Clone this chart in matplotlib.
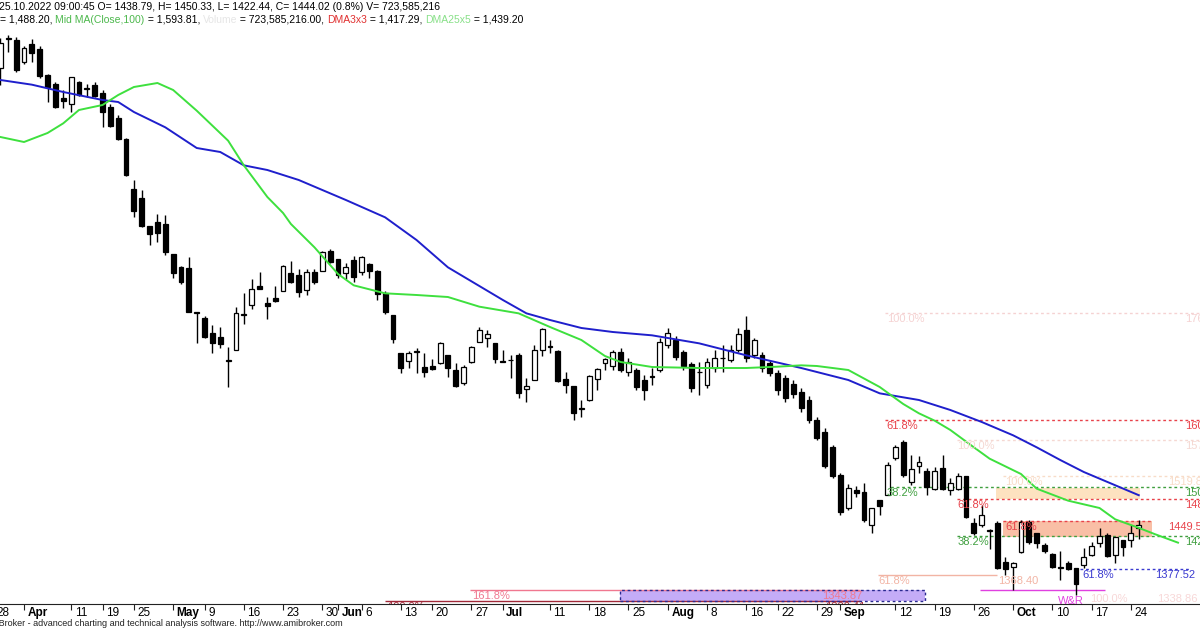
"""
WIG20 daily candles 29.03 - 25.10.2022 (AmiBroker style) with MA lines and fib levels
"""
import matplotlib
matplotlib.use("Agg")
import matplotlib.pyplot as plt
from matplotlib.patches import Rectangle
import numpy as np
import pandas as pd

plt.rcParams['font.family'] = ['Liberation Sans', 'DejaVu Sans']

# GPW sessions, holidays removed
HOLIDAYS = ['2022-04-15', '2022-04-18', '2022-05-03', '2022-06-16', '2022-08-15']
dates = pd.bdate_range('2022-03-29', '2022-10-25')
dates = dates[~dates.isin(pd.to_datetime(HOLIDAYS))]

OPENS = [2129, 2172.5, 2171, 2138, 2165, 2157.5, 2118.5, 2105, 2084, 2075,
         2108, 2098, 2103.5, 2091.5, 2070.5, 2054, 2022.5, 1947.5, 1934, 1892,
         1898, 1895, 1850, 1830.5, 1829, 1761.5, 1754, 1731.5, 1725.5, 1689.5,
         1706, 1758.5, 1773.5, 1802, 1776.5, 1784, 1794.5, 1821.5, 1818.5, 1796,
         1823, 1824.5, 1854.5, 1842.5, 1821.5, 1841, 1823, 1835, 1824.5, 1791.5,
         1758.5, 1701.5, 1689.5, 1703.5, 1680.5, 1682, 1686.5, 1698.5, 1676, 1656.5,
         1688, 1718, 1724, 1716.5, 1689, 1690.5, 1698.5, 1647.5, 1661, 1706,
         1711, 1704.5, 1662.5, 1652, 1617.5, 1631, 1662.5, 1686.5, 1682, 1703,
         1673, 1676, 1661, 1665.5, 1676, 1713.5, 1721, 1703, 1685, 1672.5,
         1653.5, 1679, 1693.5, 1691, 1706, 1736, 1698.5, 1698.5, 1686.5, 1671.5,
         1664, 1655, 1643, 1631, 1601, 1583, 1560.5, 1518.5, 1469, 1496,
         1493, 1443.5, 1481, 1488.5, 1544, 1568, 1508, 1532, 1524.5, 1497.5,
         1529, 1496, 1497.5, 1517, 1446.5, 1443.5, 1435, 1446.5, 1388, 1380.5,
         1403, 1448, 1431.5, 1413.5, 1400, 1379.5, 1386.5, 1379, 1383.5, 1398.5,
         1416.5, 1428.5, 1398.5, 1421, 1421, 1438.79]
HIGHS = [2174, 2178.5, 2175.5, 2162, 2172.5, 2162, 2120, 2108, 2096, 2115.5,
         2109.5, 2105, 2108, 2096, 2075, 2058.5, 2024, 1961, 1946, 1892,
         1910, 1908.5, 1850, 1832, 1845.5, 1763, 1757, 1743.5, 1740.5, 1710.5,
         1770.5, 1791.5, 1812.5, 1823, 1785.5, 1802, 1833.5, 1839.5, 1827.5, 1827.5,
         1827.5, 1854.5, 1857.5, 1842.5, 1836.5, 1847, 1847, 1836.5, 1826, 1794.5,
         1758.5, 1701.5, 1704.5, 1709, 1701.5, 1692.5, 1718, 1698.5, 1686.5, 1683.5,
         1712, 1740.5, 1736, 1716.5, 1706, 1698.5, 1701.5, 1664, 1713.5, 1739,
         1721, 1706, 1673, 1652, 1631, 1668.5, 1679, 1694, 1706, 1709,
         1694, 1679, 1668.5, 1679, 1724, 1739, 1727, 1706, 1688, 1688,
         1694, 1706, 1713.5, 1713.5, 1739, 1757, 1724, 1703, 1691, 1676,
         1668.5, 1661, 1649, 1637, 1605.5, 1589, 1563.5, 1521.5, 1505, 1502,
         1506.5, 1469, 1481, 1538, 1563.5, 1571, 1548.5, 1547, 1529, 1530.5,
         1548.5, 1514, 1521.5, 1517, 1454, 1473.5, 1437.5, 1449.5, 1395.5, 1388,
         1451, 1451, 1431.5, 1416.5, 1401.5, 1404.5, 1389.5, 1379, 1409, 1418,
         1439, 1431.5, 1425.5, 1421, 1443.5, 1450.33]
LOWS = [2103.5, 2153, 2123, 2135, 2138, 2114, 2078, 2069, 2069, 2063,
        2087, 2085.5, 2085.5, 2040.5, 2040.5, 2021, 1967, 1905.5, 1890.5, 1863.5,
        1868, 1848.5, 1814, 1805, 1763, 1716.5, 1724, 1701.5, 1709, 1650.5,
        1706, 1745, 1767.5, 1797.5, 1752.5, 1778, 1794.5, 1806.5, 1785.5, 1788.5,
        1805, 1824.5, 1836.5, 1814, 1812.5, 1808, 1818.5, 1814, 1781, 1760,
        1716.5, 1671.5, 1679, 1671.5, 1665.5, 1676, 1685, 1665.5, 1650.5, 1653.5,
        1686.5, 1718, 1710.5, 1686.5, 1687.5, 1664, 1634, 1628, 1661, 1697,
        1701.5, 1658, 1641.5, 1601, 1605.5, 1629.5, 1646, 1676, 1676, 1673,
        1667, 1646, 1631, 1653.5, 1673, 1709, 1691, 1676, 1643, 1638.5,
        1649, 1673, 1673, 1688, 1703, 1688, 1694, 1673, 1667, 1638.5,
        1628, 1634, 1613, 1596.5, 1571, 1529, 1514, 1458.5, 1466, 1485.5,
        1448, 1431.5, 1458.5, 1488.5, 1541, 1515.5, 1503.5, 1521.5, 1488.5, 1496,
        1496, 1488.5, 1496, 1454, 1428.5, 1440.5, 1407.5, 1377.5, 1368.5, 1346,
        1401.5, 1415, 1409, 1401.5, 1379, 1361, 1376, 1339, 1379, 1397,
        1410.5, 1395.5, 1386.5, 1397, 1410.5, 1422.44]
CLOSES = [2166.5, 2174, 2126, 2159, 2151.5, 2117, 2100.5, 2070.5, 2079.5, 2115.5,
          2088.5, 2099, 2087, 2063, 2042, 2022.5, 1968.5, 1914.5, 1892, 1880,
          1881.5, 1853, 1821.5, 1808, 1763, 1762, 1725.5, 1716.5, 1715, 1690.5,
          1761.5, 1759.5, 1797.5, 1797.5, 1772, 1779.5, 1832, 1808, 1793, 1823,
          1808, 1853, 1838, 1818.5, 1830.5, 1815.5, 1845.5, 1824.5, 1790, 1763,
          1722.5, 1679, 1701.5, 1704.5, 1673, 1677.5, 1716.5, 1679, 1652, 1680.5,
          1710.5, 1736, 1730, 1692.5, 1688, 1691.5, 1641.5, 1652, 1706, 1737.5,
          1712, 1659.5, 1653.5, 1611.5, 1618.5, 1667, 1677.5, 1692.5, 1703, 1676,
          1688, 1650.5, 1646, 1666.5, 1718, 1731.5, 1695.5, 1682, 1649, 1673.5,
          1688, 1694, 1694.5, 1706, 1730, 1694, 1721, 1679, 1671.5, 1646,
          1634, 1640, 1619, 1601, 1574, 1532, 1517, 1463, 1499, 1491.5,
          1451, 1469, 1472, 1533.5, 1560.5, 1518.5, 1527.5, 1538, 1500.5, 1524.5,
          1497.5, 1506.5, 1517, 1455.5, 1431.5, 1458.5, 1436, 1379, 1377.5, 1386.5,
          1448, 1418, 1416.5, 1404.5, 1380.5, 1381, 1377.5, 1355, 1395.5, 1412,
          1427, 1397, 1425.5, 1410.5, 1431.5, 1444.02]

# blue MA, read at bar positions
BLUE_IDX = [0, 4, 8, 13, 15, 17, 21, 25, 28, 31, 34, 38, 44, 49, 53, 57, 64, 67,
            70, 74, 78, 83, 89, 95, 102, 108, 112, 117, 121, 125, 129, 132, 135, 138, 145]
BLUE_VAL = [2111, 2104, 2093, 2081, 2078, 2063, 2040, 2009, 2003, 1983, 1976, 1961,
            1931, 1905, 1871, 1830, 1781, 1761, 1751, 1739, 1733, 1728, 1716, 1698,
            1679, 1661, 1641, 1631, 1616, 1598, 1578, 1560, 1541, 1523, 1488.2]
# DMA25x5 (displaced 5 bars forward)
GREEN_IDX = [0, 3, 6, 8, 10, 13, 15, 17, 20, 22, 25, 29, 31, 34, 36, 37, 40, 43, 45,
             49, 53, 57, 61, 66, 70, 74, 77, 79, 83, 89, 95, 99, 102, 104, 108, 112,
             115, 117, 119, 121, 124, 126, 130, 132, 136, 140, 142, 145, 147, 150]
GREEN_VAL = [2025.5, 2018, 2031.5, 2046, 2066, 2073.5, 2088.5, 2100.5, 2106.5, 2096,
             2065, 2020, 1983, 1935.5, 1911.5, 1895, 1860, 1820, 1803, 1791, 1788.5,
             1785.5, 1771, 1761, 1740.5, 1721, 1697, 1688, 1680.5, 1679, 1679, 1681,
             1683, 1682, 1676, 1650.5, 1625, 1611, 1600, 1586, 1560, 1543, 1520, 1498,
             1480, 1469, 1452, 1439.2, 1430, 1417]

# fibonacci / study lines
FIB_PRICE = [1761.5, 1600.6, 1571.0, 1517.7, 1500.5, 1482.5, 1449.5, 1427.0,
             1377.52, 1368.4, 1346.0, 1345.3, 1330.0]
FIB_X0 = [112.7, 112.7, 121.9, 127.7, 112.7, 121.9, 127.7, 121.9, 137.5, 111.8, 124.8, 59.8, 49.0]
FIB_X1 = [153, 153, 153, 153, 153, 153, 146.7, 153, 151.5, 127.0, 140.7, 109.5, 109.5]
FIB_COLOR = ['#f5d2d2', '#e8424a', '#f5d8d2', '#f8dcc8', '#3f9f3f', '#e8424a', '#e8424a',
             '#3f9f3f', '#3a3ad0', '#f2b4a4', '#e040e0', '#f07890', '#a02838']
FIB_DASHED = [True, True, True, True, True, True, True, True, True, False, False, False, False]
FIB_PCT = ['100.0%', '61.8%', '100.0%', '100.0%', '38.2%', '61.8%', '61.8%', '38.2%',
           '61.8%', '61.8%', 'W&R', '161.8%', '100.0%']
FIB_PCT_X = [112.9, 112.9, 121.9, 128.0, 112.9, 121.9, 128.0, 121.9, 137.8, 111.8, 134.7, 60.1, 49.2]
FIB_VAL = ['1761.48', '1600.61', '1570.96', '1519.80', '1500.52', '1482.51', '1449.58',
           '1427.02', '1377.52', '1368.40', '', '1343.87', '1320.41']
FIB_VAL_X = [150.9, 150.9, 150.9, 148.7, 150.9, 150.9, 148.7, 150.9, 147.1, 127.1, 0, 104.7, 105.0]

# zones: x0, x1, low, high
ZONE_X0 = [126.8, 127.7, 78.9]
ZONE_X1 = [145.2, 146.7, 117.8]
ZONE_LO = [1482.5, 1425.5, 1329.5]
ZONE_HI = [1499.0, 1449.5, 1346.0]
ZONE_COLOR = ['#fde2c0', '#f9bfa6', '#c4acf7']

TICK_DATES = ['2022-03-28', '2022-04-01', '2022-04-11', '2022-04-19', '2022-04-25',
              '2022-05-02', '2022-05-09', '2022-05-16', '2022-05-23', '2022-05-30',
              '2022-06-01', '2022-06-06', '2022-06-13', '2022-06-20', '2022-06-27',
              '2022-07-01', '2022-07-11', '2022-07-18', '2022-07-25', '2022-08-01',
              '2022-08-08', '2022-08-16', '2022-08-22', '2022-08-29', '2022-09-01',
              '2022-09-12', '2022-09-19', '2022-09-26', '2022-10-03', '2022-10-10',
              '2022-10-17', '2022-10-24']
TICK_LABELS = ['28', 'Apr', '11', '19', '25', 'May', '9', '16', '23', '30', 'Jun', '6',
               '13', '20', '27', 'Jul', '11', '18', '25', 'Aug', '8', '16', '22', '29',
               'Sep', '12', '19', '26', 'Oct', '10', '17', '24']
MONTHS = ['Apr', 'May', 'Jun', 'Jul', 'Aug', 'Sep', 'Oct']


fig = plt.figure(figsize=(12, 6.3), dpi=100)
ax = fig.add_axes([0, 26 / 630, 1, 604 / 630])
ax.set_xlim(-0.057, 152.8)
ax.set_ylim(1325, 2231)
for s in ['top', 'left', 'right']:
    ax.spines[s].set_visible(False)
ax.spines['bottom'].set_color('#222222')
ax.set_yticks([])

# zones
for x0, x1, lo, hi, col in zip(ZONE_X0, ZONE_X1, ZONE_LO, ZONE_HI, ZONE_COLOR):
    ax.add_patch(Rectangle((x0, lo), x1 - x0, hi - lo, facecolor=col, edgecolor='none', zorder=1))
ax.add_patch(Rectangle((ZONE_X0[2], ZONE_LO[2]), ZONE_X1[2] - ZONE_X0[2], ZONE_HI[2] - ZONE_LO[2],
                       facecolor='none', edgecolor='#2a2a90', lw=1, linestyle=(0, (2, 2)), zorder=2))

# fib lines and labels
for p, x0, x1, col, dash, pct, px, val, vx in zip(FIB_PRICE, FIB_X0, FIB_X1, FIB_COLOR, FIB_DASHED,
                                                   FIB_PCT, FIB_PCT_X, FIB_VAL, FIB_VAL_X):
    ax.hlines(p, x0, x1, colors=col, lw=1, linestyles=(0, (2, 2)) if dash else 'solid', zorder=1.5)
    off = 9 if pct == 'W&R' else 1.5
    ax.text(px, p - off, pct, color=col, fontsize=8, ha='left', va='top', zorder=6, clip_on=True)
    if val:
        ax.text(vx, p - 1.5, val, color=col, fontsize=8, ha='left', va='top', zorder=6, clip_on=True)
ax.text(138.8, 1346 - 6, '100.0%', color='#f8d8d8', fontsize=8, ha='left', va='top', zorder=6)
ax.text(147.3, 1346 - 6, '1338.86', color='#f8d8d8', fontsize=8, ha='left', va='top', zorder=6)

# candles
x = np.arange(len(dates))
o = np.array(OPENS)
c = np.array(CLOSES)
up = c >= o
lo = np.minimum(o, c)
hgt = np.maximum(np.abs(c - o), 0.8)
ax.vlines(x, LOWS, HIGHS, color='black', lw=1, zorder=3)
ax.bar(x[up], hgt[up], bottom=lo[up], width=0.62, color='white', edgecolor='black', lw=0.9, zorder=4)
ax.bar(x[~up], hgt[~up], bottom=lo[~up], width=0.62, color='black', edgecolor='black', lw=0.9, zorder=4)

# moving averages
ax.plot(BLUE_IDX, BLUE_VAL, color='#1f1fcc', lw=1.4, zorder=5)
ax.plot(GREEN_IDX, GREEN_VAL, color='#3ee03e', lw=1.4, zorder=5)

# date axis
tick_pos = []
for d in pd.to_datetime(TICK_DATES):
    pos = dates.searchsorted(d)
    if d not in dates:
        pos -= 1
    tick_pos.append(pos)
ax.set_xticks([p for p in tick_pos if p >= 0])
ax.set_xticklabels([])
ax.tick_params(axis='x', length=4, width=0.8, color='#222222', direction='out')
for pos, lab in zip(tick_pos, TICK_LABELS):
    ax.annotate(lab, xy=(pos, 0), xycoords=('data', 'axes fraction'), xytext=(2.5, -2.5),
                textcoords='offset points', ha='left', va='top', fontsize=8.5,
                fontweight='bold' if lab in MONTHS else 'normal', annotation_clip=False)

# header
fig.text(-0.001, 1 - 7 / 630, '25.10.2022 09:00:45 O= 1438.79, H= 1450.33, L= 1422.44, '
         'C= 1444.02 (0.8%) V= 723,585,216', fontsize=7.5, va='center', ha='left')
parts = [('= 1,488.20, ', 'black'), ('Mid MA(Close,100)', '#4cb84c'), (' = 1,593.81, ', 'black'),
         ('Volume', '#e6e6e6'), (' = 723,585,216.00, ', 'black'), ('DMA3x3', '#e03030'),
         (' = 1,417.29, ', 'black'), ('DMA25x5', '#88e088'), (' = 1,439.20', 'black')]
prev = fig.text(0, 1 - 20 / 630, parts[0][0], color=parts[0][1], fontsize=7.5, va='center', ha='left')
for txt, col in parts[1:]:
    prev = ax.annotate(txt, xy=(1, 0), xycoords=prev, ha='left', va='bottom', color=col,
                       fontsize=7.5, annotation_clip=False)

# footer
fig.text(-17 / 1200, 1 - 624 / 630, 'AmiBroker - advanced charting and technical analysis software. '
         'http://www.amibroker.com', fontsize=6.5, va='center', ha='left', color='#222222')

fig.savefig('out.png', dpi=100)
